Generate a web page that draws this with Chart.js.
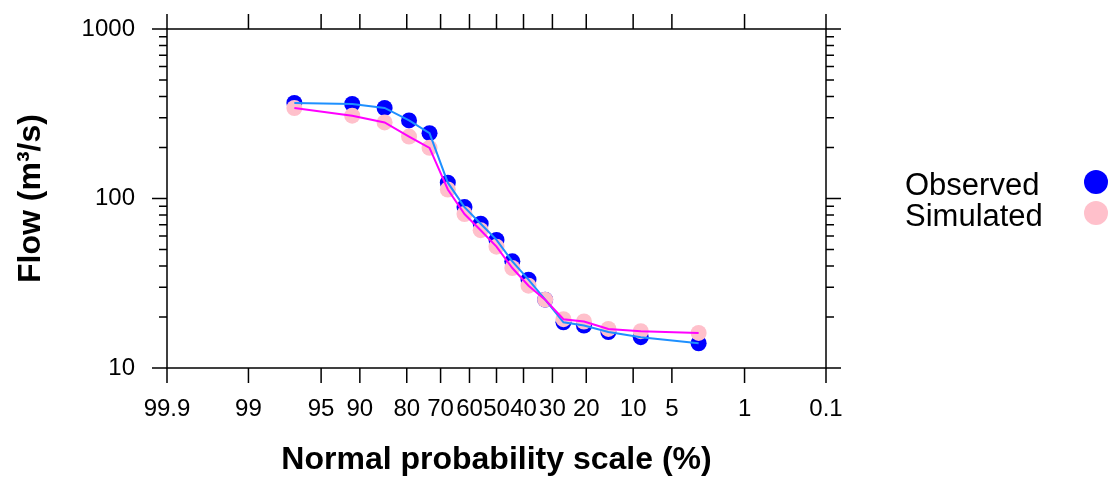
<!DOCTYPE html>
<html>
<head>
<meta charset="utf-8">
<title>Flow duration</title>
<script src="https://cdn.jsdelivr.net/npm/chart.js@4.4.1/dist/chart.umd.min.js"></script>
<style>
  html, body { margin: 0; padding: 0; background: #fff; }
  #wrap { width: 1109px; height: 480px; }
</style>
</head>
<body>
<div id="wrap"><canvas id="flowChart" width="1109" height="480"></canvas></div>
<script>
// ===================== Data =====================
const seriesNames = ['Observed', 'Simulated'];

// exceedance probability (%) of each ranked flow
const exceedance = [97.1, 91.2, 85.3, 79.4, 73.5, 67.6, 61.8, 55.9, 50.0, 44.1, 38.2, 32.4, 26.5, 20.6, 14.7, 8.8, 2.9];

const observedFlow = [366, 361, 342, 289, 243, 124, 89, 71, 57, 42.6, 33.2, 25.3, 18.6, 17.8, 16.3, 15.2, 14.0];
const simulatedFlow = [342, 308, 281, 232, 199, 113, 81, 65, 52, 38.9, 30.6, 25.3, 19.4, 18.8, 17.0, 16.5, 16.1];

const probTicks = [99.9, 99, 95, 90, 80, 70, 60, 50, 40, 30, 20, 10, 5, 1, 0.1];
const flowTicks = [10, 100, 1000];

const FONT = "'Liberation Sans', Arial, sans-serif";

// ===================== Normal probability transform =====================
// inverse standard normal CDF (Acklam's rational approximation)
function qnorm(p) {
    const a = [-3.969683028665376e+01, 2.209460984245205e+02, -2.759285104469687e+02,
               1.383577518672690e+02, -3.066479806614716e+01, 2.506628277459239e+00];
    const b = [-5.447609879822406e+01, 1.615858368580409e+02, -1.556989798598866e+02,
               6.680131188771972e+01, -1.328068155288572e+01];
    const c = [-7.784894002430293e-03, -3.223964580411365e-01, -2.400758277161838e+00,
               -2.549732539343734e+00, 4.374664141464968e+00, 2.938163982698783e+00];
    const d = [7.784695709041462e-03, 3.224671290700398e-01, 2.445134137142996e+00,
               3.754408661907416e+00];
    const plow = 0.02425;
    let q, r;
    if (p < plow) {
        q = Math.sqrt(-2 * Math.log(p));
        return (((((c[0] * q + c[1]) * q + c[2]) * q + c[3]) * q + c[4]) * q + c[5]) /
               ((((d[0] * q + d[1]) * q + d[2]) * q + d[3]) * q + 1);
    }
    if (p > 1 - plow) {
        q = Math.sqrt(-2 * Math.log(1 - p));
        return -(((((c[0] * q + c[1]) * q + c[2]) * q + c[3]) * q + c[4]) * q + c[5]) /
                ((((d[0] * q + d[1]) * q + d[2]) * q + d[3]) * q + 1);
    }
    q = p - 0.5;
    r = q * q;
    return (((((a[0] * r + a[1]) * r + a[2]) * r + a[3]) * r + a[4]) * r + a[5]) * q /
           (((((b[0] * r + b[1]) * r + b[2]) * r + b[3]) * r + b[4]) * r + 1);
}

// high exceedance on the left, low on the right
const probToX = p => qnorm(1 - p / 100);

const toPoints = values => values.map((v, i) => ({ x: probToX(exceedance[i]), y: v }));

// ===================== Frame, ticks and legend =====================
const frameTicks = {
    id: 'frameTicks',
    afterDatasetsDraw(chart) {
        const { ctx, chartArea: area, scales } = chart;
        const xs = scales.x, ys = scales.y;
        const major = 15, minor = 8;

        ctx.save();
        ctx.strokeStyle = '#000';
        ctx.lineWidth = 1.5;
        ctx.strokeRect(area.left, area.top, area.right - area.left, area.bottom - area.top);

        ctx.beginPath();
        probTicks.forEach(p => {
            const px = xs.getPixelForValue(probToX(p));
            ctx.moveTo(px, area.bottom); ctx.lineTo(px, area.bottom + major);
            ctx.moveTo(px, area.top); ctx.lineTo(px, area.top - major);
        });
        flowTicks.forEach(v => {
            const py = ys.getPixelForValue(v);
            ctx.moveTo(area.left, py); ctx.lineTo(area.left - major, py);
            ctx.moveTo(area.right, py); ctx.lineTo(area.right + major, py);
        });
        for (let decade = 10; decade < 1000; decade *= 10) {
            for (let m = 2; m <= 9; m++) {
                const py = ys.getPixelForValue(m * decade);
                ctx.moveTo(area.left, py); ctx.lineTo(area.left - minor, py);
                ctx.moveTo(area.right, py); ctx.lineTo(area.right + minor, py);
            }
        }
        ctx.stroke();
        ctx.restore();
    },
    afterDraw(chart) {
        const ctx = chart.ctx;
        const markColors = ['#0000ff', '#ffc0cb'];
        ctx.save();
        ctx.font = '31px ' + FONT;
        ctx.fillStyle = '#000';
        ctx.textBaseline = 'alphabetic';
        seriesNames.forEach((name, i) => {
            const baseY = 195 + i * 31;
            ctx.fillText(name, 905, baseY);
            ctx.beginPath();
            ctx.arc(1096, baseY - 13, 12, 0, Math.PI * 2);
            ctx.fillStyle = markColors[i];
            ctx.fill();
            ctx.fillStyle = '#000';
        });
        ctx.restore();
    }
};

// ===================== Chart =====================
const ctx = document.getElementById('flowChart').getContext('2d');

const flowChart = new Chart(ctx, {
    type: 'scatter',
    data: {
        datasets: [
            {
                label: seriesNames[1] + ' line',
                data: toPoints(simulatedFlow),
                showLine: true,
                borderColor: '#ff00ff',
                borderWidth: 2,
                pointRadius: 0,
                order: 0
            },
            {
                label: seriesNames[0] + ' line',
                data: toPoints(observedFlow),
                showLine: true,
                borderColor: '#1e90ff',
                borderWidth: 2,
                pointRadius: 0,
                order: 1
            },
            {
                label: seriesNames[1],
                data: toPoints(simulatedFlow),
                pointRadius: 8,
                pointBackgroundColor: '#ffc0cb',
                pointBorderWidth: 0,
                order: 2
            },
            {
                label: seriesNames[0],
                data: toPoints(observedFlow),
                pointRadius: 8,
                pointBackgroundColor: '#0000ff',
                pointBorderWidth: 0,
                order: 3
            }
        ]
    },
    options: {
        responsive: false,
        animation: false,
        events: [],
        layout: { padding: { left: 0, top: 29, right: 283, bottom: 0 } },
        plugins: {
            legend: { display: false },
            tooltip: { enabled: false }
        },
        scales: {
            x: {
                type: 'linear',
                min: probToX(99.9),
                max: probToX(0.1),
                grid: { display: false, drawTicks: false },
                border: { display: false },
                afterBuildTicks: scale => {
                    scale.ticks = probTicks.map(p => ({ value: probToX(p) }));
                },
                afterFit: scale => { scale.height = 112; },
                ticks: {
                    autoSkip: false,
                    maxRotation: 0,
                    padding: 27,
                    color: '#000',
                    font: { family: FONT, size: 24 },
                    callback: (value, index) => String(probTicks[index])
                },
                title: {
                    display: true,
                    text: 'Normal probability scale (%)',
                    color: '#000',
                    font: { family: FONT, size: 32, weight: 'bold' },
                    padding: { top: 0, bottom: 1 }
                }
            },
            y: {
                type: 'logarithmic',
                min: 10,
                max: 1000,
                grid: { display: false, drawTicks: false },
                border: { display: false },
                afterBuildTicks: scale => {
                    scale.ticks = flowTicks.map(v => ({ value: v }));
                },
                afterFit: scale => {
                    scale.width = 167;
                    // label gap is set by ticks.padding; keep it out of the vertical layout
                    scale.paddingTop = 0;
                    scale.paddingBottom = 0;
                },
                ticks: {
                    padding: 32,
                    color: '#000',
                    font: { family: FONT, size: 24 },
                    callback: value => String(value)
                },
                title: {
                    display: true,
                    text: 'Flow (m³/s)',
                    color: '#000',
                    font: { family: FONT, size: 32, weight: 'bold' },
                    padding: { top: 12, bottom: 0 }
                }
            }
        }
    },
    plugins: [frameTicks]
});
</script>
</body>
</html>
